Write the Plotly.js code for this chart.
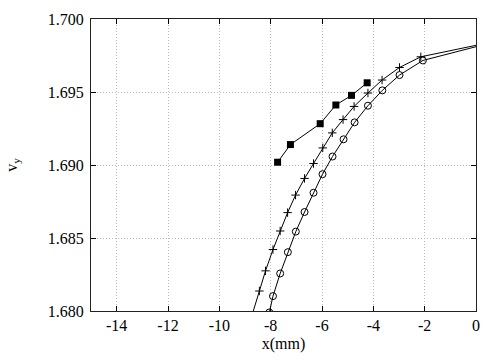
<!DOCTYPE html>
<html>
<head>
<meta charset="utf-8">
<script src="https://cdn.plot.ly/plotly-3.0.1.min.js"></script>
<style>html,body{margin:0;padding:0;background:#fff;}#chart{width:504px;height:360px;}</style>
</head>
<body>
<div id="chart"></div>
<script>
// Filled squares series
const squareX = [-7.73, -7.23, -6.07, -5.46, -4.85, -4.24];
const squareY = [1.69019, 1.69140, 1.69283, 1.69411, 1.69477, 1.69563];

// Plus series
const plusX = [-8.80, -8.44, -8.20, -7.91, -7.63, -7.34, -7.03, -6.68, -6.33, -5.97, -5.60, -5.18, -4.75, -4.21, -3.66, -2.98, -2.15, 0.5];
const plusY = [1.67929, 1.68137, 1.68275, 1.68421, 1.68548, 1.68674, 1.68794, 1.68908, 1.69010, 1.69117, 1.69220, 1.69311, 1.69401, 1.69493, 1.69582, 1.69668, 1.69741, 1.69838];

// Open circles series
const circleX = [-8.05, -7.91, -7.63, -7.33, -7.02, -6.68, -6.33, -5.98, -5.59, -5.16, -4.73, -4.21, -3.65, -2.98, -2.07, 0.5];
const circleY = [1.67990, 1.68102, 1.68257, 1.68403, 1.68544, 1.68678, 1.68810, 1.68937, 1.69058, 1.69176, 1.69292, 1.69406, 1.69511, 1.69616, 1.69716, 1.69833];

const xTicks = [-14, -12, -10, -8, -6, -4, -2, 0];
const yTicks = [1.680, 1.685, 1.690, 1.695, 1.700];

const FONT = "Liberation Serif, Times New Roman, serif";

const traces = [
  {x: plusX, y: plusY, type: 'scatter', mode: 'lines+markers',
   line: {color: '#000', width: 1},
   marker: {symbol: 'cross-thin-open', size: 6, color: '#000', line: {color: '#000', width: 1}}},
  {x: circleX, y: circleY, type: 'scatter', mode: 'lines+markers',
   line: {color: '#000', width: 1},
   marker: {symbol: 'circle-open', size: 7, color: '#000', line: {color: '#000', width: 1}}},
  {x: squareX, y: squareY, type: 'scatter', mode: 'lines+markers',
   line: {color: '#000', width: 1},
   marker: {symbol: 'square', size: 7, color: '#000'}}
];

const axisCommon = {
  showline: true, linecolor: '#222', linewidth: 1, mirror: 'ticks',
  ticks: 'inside', ticklen: 5, tickcolor: '#000', tickwidth: 1,
  showgrid: true, gridcolor: '#bbbbbb', griddash: '1px,2px', gridwidth: 1,
  zeroline: false,
  tickfont: {family: FONT, size: 16, color: '#000'}
};

const layout = {
  width: 504, height: 360,
  margin: {l: 91, r: 28, t: 19, b: 49},
  paper_bgcolor: '#fff', plot_bgcolor: '#fff',
  showlegend: false,
  font: {family: FONT, size: 16, color: '#000'},
  xaxis: Object.assign({}, axisCommon, {
    range: [-15, 0], tickvals: xTicks, ticktext: xTicks.map(v => v < 0 ? '-' + Math.abs(v) : String(v)),
    title: {text: 'x(mm)', font: {family: FONT, size: 16, color: '#000'}, standoff: 4}
  }),
  yaxis: Object.assign({}, axisCommon, {
    range: [1.680, 1.700], tickvals: yTicks, ticktext: yTicks.map(v => v.toFixed(3)),
    ticklabelstandoff: 3,
    title: {text: 'v<sub>y</sub>', font: {family: FONT, size: 16, color: '#000'}, standoff: 26}
  })
};

Plotly.newPlot('chart', traces, layout, {displayModeBar: false, staticPlot: true});
</script>
</body>
</html>
